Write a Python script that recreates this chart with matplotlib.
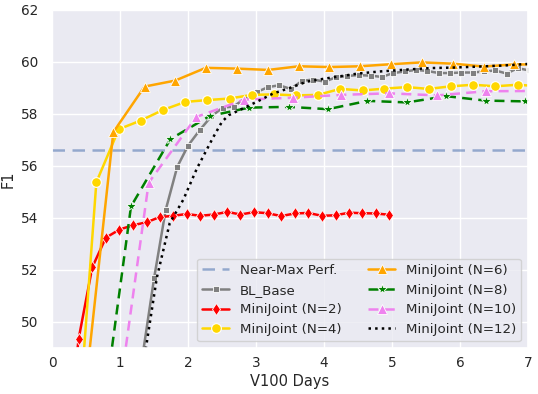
import numpy as np
import seaborn as sns
from matplotlib import pyplot as plt

sns.set_theme(style="darkgrid")
plt.rcParams['font.family'] = ['DejaVu Sans']

near_max = 56.6

bl_x = [1.17, 1.33, 1.5, 1.67, 1.84, 2.0, 2.17, 2.34, 2.51, 2.67, 2.84, 3.01, 3.18, 3.34,
        3.51, 3.68, 3.84, 4.01, 4.17, 4.34, 4.51, 4.69, 4.85, 5.02, 5.19, 5.35, 5.52, 5.69,
        5.85, 6.02, 6.19, 6.35, 6.52, 6.69, 6.85, 7.02]
bl_y = [46.0, 48.7, 51.68, 54.3, 55.96, 56.78, 57.37, 57.9, 58.24, 58.28, 58.6, 58.84, 59.03, 59.1,
        58.96, 59.27, 59.32, 59.24, 59.4, 59.46, 59.49, 59.47, 59.42, 59.57, 59.63, 59.69, 59.65, 59.57,
        59.57, 59.59, 59.59, 59.63, 59.67, 59.55, 59.76, 59.67]

n2_x = [0.2, 0.39, 0.59, 0.79, 0.99, 1.19, 1.39, 1.58, 1.78, 1.98, 2.18, 2.38, 2.58, 2.77, 2.97,
        3.17, 3.37, 3.57, 3.77, 3.97, 4.17, 4.37, 4.56, 4.76, 4.96]
n2_y = [45.0, 49.36, 52.1, 53.24, 53.55, 53.72, 53.83, 54.03, 54.08, 54.15, 54.08, 54.13, 54.23, 54.13,
        54.22, 54.18, 54.07, 54.17, 54.19, 54.08, 54.1, 54.2, 54.18, 54.17, 54.12]

n4_x = [0.33, 0.65, 0.98, 1.3, 1.63, 1.96, 2.28, 2.61, 2.94, 3.26, 3.59, 3.91, 4.24, 4.57, 4.89,
        5.22, 5.54, 5.87, 6.2, 6.52, 6.85, 7.18]
n4_y = [44.0, 55.37, 57.41, 57.74, 58.15, 58.46, 58.53, 58.59, 58.73, 58.75, 58.71, 58.73, 58.96, 58.9,
        58.97, 59.03, 58.96, 59.06, 59.12, 59.06, 59.12, 59.06]

n6_x = [0.45, 0.9, 1.36, 1.81, 2.26, 2.72, 3.18, 3.63, 4.08, 4.53, 4.99, 5.44, 5.9, 6.35, 6.8, 7.26]
n6_y = [46.5, 57.3, 59.05, 59.28, 59.77, 59.74, 59.69, 59.83, 59.8, 59.83, 59.91, 59.98, 59.93, 59.82,
        59.9, 59.9]

n8_x = [0.58, 1.16, 1.74, 2.32, 2.9, 3.48, 4.06, 4.64, 5.22, 5.8, 6.38, 6.96]
n8_y = [43.2, 54.44, 57.03, 57.92, 58.24, 58.27, 58.18, 58.5, 58.44, 58.68, 58.51, 58.48]

n10_x = [0.71, 1.42, 2.12, 2.83, 3.54, 4.25, 4.96, 5.67, 6.38, 7.09]
n10_y = [42.0, 55.35, 57.88, 58.55, 58.62, 58.73, 58.79, 58.71, 58.87, 58.88]

n12_x = [1.25, 1.38, 1.54, 1.73, 1.93, 2.13, 2.37, 2.5, 2.6, 2.76, 3.0, 3.25, 3.5, 3.75, 4.0,
         4.25, 4.5, 4.82, 5.2, 5.56, 5.9, 6.29, 6.65, 7.0]
n12_y = [46.5, 49.0, 51.7, 53.8, 54.7, 55.9, 57.1, 57.7, 57.95, 58.15, 58.45, 58.78, 59.0, 59.24, 59.35,
         59.45, 59.55, 59.63, 59.7, 59.76, 59.78, 59.82, 59.86, 59.92]

fig = plt.figure(figsize=(5.38, 3.94), dpi=100)
ax = fig.add_axes([0.097, 0.117, 0.884, 0.858])

lw = 1.8
ax.axhline(near_max, color='#4c72b0', alpha=0.55, ls=(0, (5, 3)), lw=lw, label='Near-Max Perf.')
ax.plot(bl_x, bl_y, color='gray', lw=lw, marker='s', ms=5, mec='white', mew=0.6, label='BL_Base')
ax.plot(n2_x, n2_y, color='red', lw=lw, marker='d', ms=6, mec='white', mew=0.6, label='MiniJoint (N=2)')
ax.plot(n4_x, n4_y, color='gold', lw=lw, marker='o', ms=7, mec='white', mew=0.8, label='MiniJoint (N=4)')
ax.plot(n6_x, n6_y, color='orange', lw=lw, marker='^', ms=7, mec='white', mew=0.6, label='MiniJoint (N=6)')
ax.plot(n8_x, n8_y, color='green', lw=lw, ls=(0, (4, 2.5)), marker='*', ms=8, mec='white', mew=0.6, label='MiniJoint (N=8)')
ax.plot(n10_x, n10_y, color='violet', lw=lw, ls=(0, (4, 2.5)), marker='^', ms=7, mec='white', mew=0.6, label='MiniJoint (N=10)')
ax.plot(n12_x, n12_y, color='black', lw=lw, ls=':', label='MiniJoint (N=12)')

ax.set_xlim(0, 7)
ax.set_ylim(49, 62)
ax.set_yticks(np.arange(50, 63, 2))
ax.tick_params(axis='x', labelsize=9.8, length=0, pad=6)
ax.tick_params(axis='y', labelsize=9.8, length=0, pad=10)
ax.set_xlabel("V100 Days", fontsize=10.5, labelpad=3)
ax.set_ylabel("F1", fontsize=10.5, labelpad=4)
ax.legend(loc='lower right', ncol=2, fontsize=9.6, borderaxespad=0.5)

plt.savefig("out.png", dpi=100)
